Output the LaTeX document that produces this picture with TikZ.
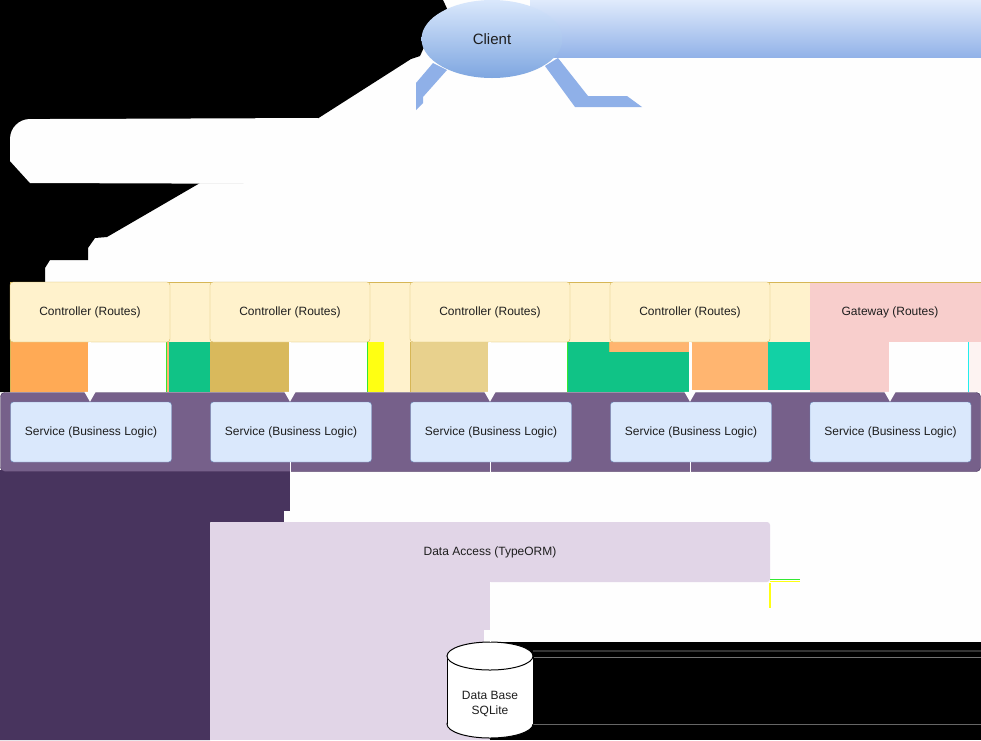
\documentclass[tikz,border=0pt]{standalone}
\usepackage{fontspec}
\setmainfont{Liberation Sans}
\usetikzlibrary{shapes.geometric,arrows.meta}
\definecolor{bg}{HTML}{FEFEFE}
\definecolor{bandTop}{HTML}{E0EBFC}
\definecolor{bandBot}{HTML}{92B2E8}
\definecolor{legBlue}{HTML}{8FB0E8}
\definecolor{cliTop}{HTML}{DAE8FC}
\definecolor{cliBot}{HTML}{7EA6E0}
\definecolor{ctrlFill}{HTML}{FFF2CC}
\definecolor{ctrlLine}{HTML}{D6B656}
\definecolor{gwFill}{HTML}{F8CECC}
\definecolor{cOrange}{HTML}{FFAA55}
\definecolor{cOrangeB}{HTML}{FFB570}
\definecolor{cGreen}{HTML}{10C386}
\definecolor{cTeal}{HTML}{12D1A5}
\definecolor{cMustard}{HTML}{D9B95C}
\definecolor{cMustardL}{HTML}{E8D18D}
\definecolor{cYellow}{HTML}{FFFF12}
\definecolor{cLime}{HTML}{33E833}
\definecolor{cCyan}{HTML}{22EEEE}
\definecolor{bandFill}{HTML}{76608A}
\definecolor{bandLine}{HTML}{432D57}
\definecolor{svcFill}{HTML}{DAE8FC}
\definecolor{svcLine}{HTML}{6C8EBF}
\definecolor{darkPurple}{HTML}{48345E}
\definecolor{daFill}{HTML}{E1D5E7}
\definecolor{txt}{HTML}{1E1E1E}
\begin{document}
\begin{tikzpicture}[x=1pt,y=-1pt,
  lbl/.style={text=txt, font=\fontsize{12}{14.5}\selectfont, inner sep=0pt},
  ctrlbox/.style={lbl, draw=ctrlLine, fill=ctrlFill, rounded corners=3pt, minimum width=160pt, minimum height=60pt},
  gwbox/.style={lbl, minimum width=160pt, minimum height=60pt},
  svcbox/.style={lbl, draw=svcLine, fill=svcFill, rounded corners=3pt, minimum width=161pt, minimum height=60pt},
  dabox/.style={lbl, fill=daFill, rounded corners=3pt, minimum width=560pt, minimum height=60pt},
  warrow/.style={draw=bg, line width=1.2pt, -{Triangle[width=11pt,length=10pt,fill=bg]}},
  wline/.style={draw=bg, line width=1pt}]
\useasboundingbox (0,0) rectangle (981,740);
\fill[bg] (0,0) rectangle (981,740);
% black top-left area
\fill[black] (0,0) -- (443,0) -- (450,15) -- (425,45) -- (420,56) -- (411,59) -- (317,119) -- (317,183) -- (200,183) -- (107,237) -- (95,238) -- (88,248) -- (88,260) -- (50,260) -- (45,268) -- (45,282) -- (10,282) -- (10,392) -- (0,392) -- cycle;
\fill[bg] (318,118) -- (318,184) -- (30,183) -- (10,161) [rounded corners=20pt] -- (10,119) -- (60,119) [sharp corners] -- (318,118) -- cycle;
% blue band and legs
\shade[top color=bandTop, bottom color=bandBot] (530,0) rectangle (981,57);
\fill[legBlue] (433,63) -- (447,70) -- (423,97) -- (423,103) -- (416,110) -- (416,83) -- cycle;
\fill[legBlue] (545,66) -- (558,58) -- (588,96) -- (627,96) -- (642,107) -- (575,107) -- cycle;
\node[ellipse, minimum width=141pt, minimum height=78pt, inner sep=0pt, top color=cliTop, bottom color=cliBot, text=txt, font=\fontsize{15}{18}\selectfont] (client) at (492,39) {Client};
% controller layer
\fill[ctrlFill] (10,282) rectangle (981,342);
\fill[ctrlFill] (384,342) rectangle (410,392);
\fill[cOrange] (11,342) rectangle (88,392);
\fill[cLime] (166,342) rectangle (167,392);
\fill[cOrangeB] (167,342) rectangle (169,392);
\fill[cGreen] (169,342) rectangle (210,392);
\fill[cMustard] (210,342) rectangle (289,392);
\fill[cLime] (367,342) rectangle (368,392);
\fill[cYellow] (368,342) rectangle (384,392);
\fill[cMustardL] (410,342) rectangle (488,392);
\draw[ctrlLine] (410.5,342) -- (410.5,392);
\fill[cLime] (567,342) rectangle (568,392);
\fill[cGreen] (568,342) rectangle (690,392);
\fill[cOrangeB] (609,342) rectangle (690,352);
\draw[ctrlLine] (609.5,342) -- (609.5,352);
\fill[cOrangeB] (692,342) rectangle (768,390);
\fill[cTeal] (768,342) rectangle (810,390);
\fill[gwFill] (810,342) rectangle (889,392);
\fill[cCyan] (968,342) rectangle (969,392);
\fill[gwFill!25] (969,342) rectangle (981,392);
\fill[gwFill] (810,282.5) rectangle (981,342);
\draw[ctrlLine] (10.5,392) -- (10.5,282.5) -- (981,282.5);
\node[ctrlbox] (c1) at (90,312) {Controller (Routes)};
\node[ctrlbox] (c2) at (290,312) {Controller (Routes)};
\node[ctrlbox] (c3) at (490,312) {Controller (Routes)};
\node[ctrlbox] (c4) at (690,312) {Controller (Routes)};
\node[gwbox] (gw) at (890,312) {Gateway (Routes)};
% lower dark purple area
\fill[darkPurple] (0,470) -- (290,470) -- (290,522) -- (210,522) -- (210,740) -- (0,740) -- cycle;
\fill[bg] (284,511) rectangle (290,522);
% service band
\draw[fill=bandFill, draw=bandLine, rounded corners=4pt] (0.5,392.5) rectangle (980.5,471.5);
\node[svcbox] (s1) at (91,432) {Service (Business Logic)};
\node[svcbox] (s2) at (291,432) {Service (Business Logic)};
\node[svcbox] (s3) at (491,432) {Service (Business Logic)};
\node[svcbox] (s4) at (691,432) {Service (Business Logic)};
\node[svcbox] (s5) at (890.5,432) {Service (Business Logic)};
\draw[warrow] (c1.south) -- (c1.south |- s1.north);
\draw[warrow] (c2.south) -- (c2.south |- s2.north);
\draw[warrow] (c3.south) -- (c3.south |- s3.north);
\draw[warrow] (c4.south) -- (c4.south |- s4.north);
\draw[warrow] (gw.south) -- (gw.south |- s5.north);
% data access
\fill[daFill] (210,575) rectangle (490,740);
\node[dabox] (da) at (490,552) {Data Access (TypeORM)};
\draw[wline] (c2.south |- s2.south) -- (c2.south |- da.north);
\draw[wline] (c3.south |- s3.south) -- (c3.south |- da.north);
\draw[wline] (c4.south |- s4.south) -- (c4.south |- da.north);
\draw[cLime, line width=1pt] (770,579) -- (800,579);
\draw[cYellow, line width=1pt] (770,581) -- (800,581);
\draw[cYellow, line width=1.2pt] (770,583) -- (770,608);
\fill[bg] (484,630) rectangle (490,642);
% black lower-right area
\fill[black] (490,642) rectangle (981,740);
\draw[black!80, line width=1.5pt] (533,651) -- (981,651);
\draw[black!55, line width=0.8pt] (533,657) -- (981,657);
\draw[black!60, line width=0.8pt] (533,724) -- (981,724);
% database cylinder
\draw[fill=white, line width=1pt] (490,724) ellipse (43 and 14);
\fill[white] (447.5,656) rectangle (532.5,724);
\draw[line width=1pt] (447,656) -- (447,724) (533,656) -- (533,724);
\draw[fill=white, line width=1pt] (490,656) ellipse (43 and 14);
\coordinate (dbtop) at (490,642);
\draw[wline] (da.south) -- (dbtop);
\node[lbl, align=center] (db) at (490,704) {Data Base\\SQLite};
\end{tikzpicture}
\end{document}
